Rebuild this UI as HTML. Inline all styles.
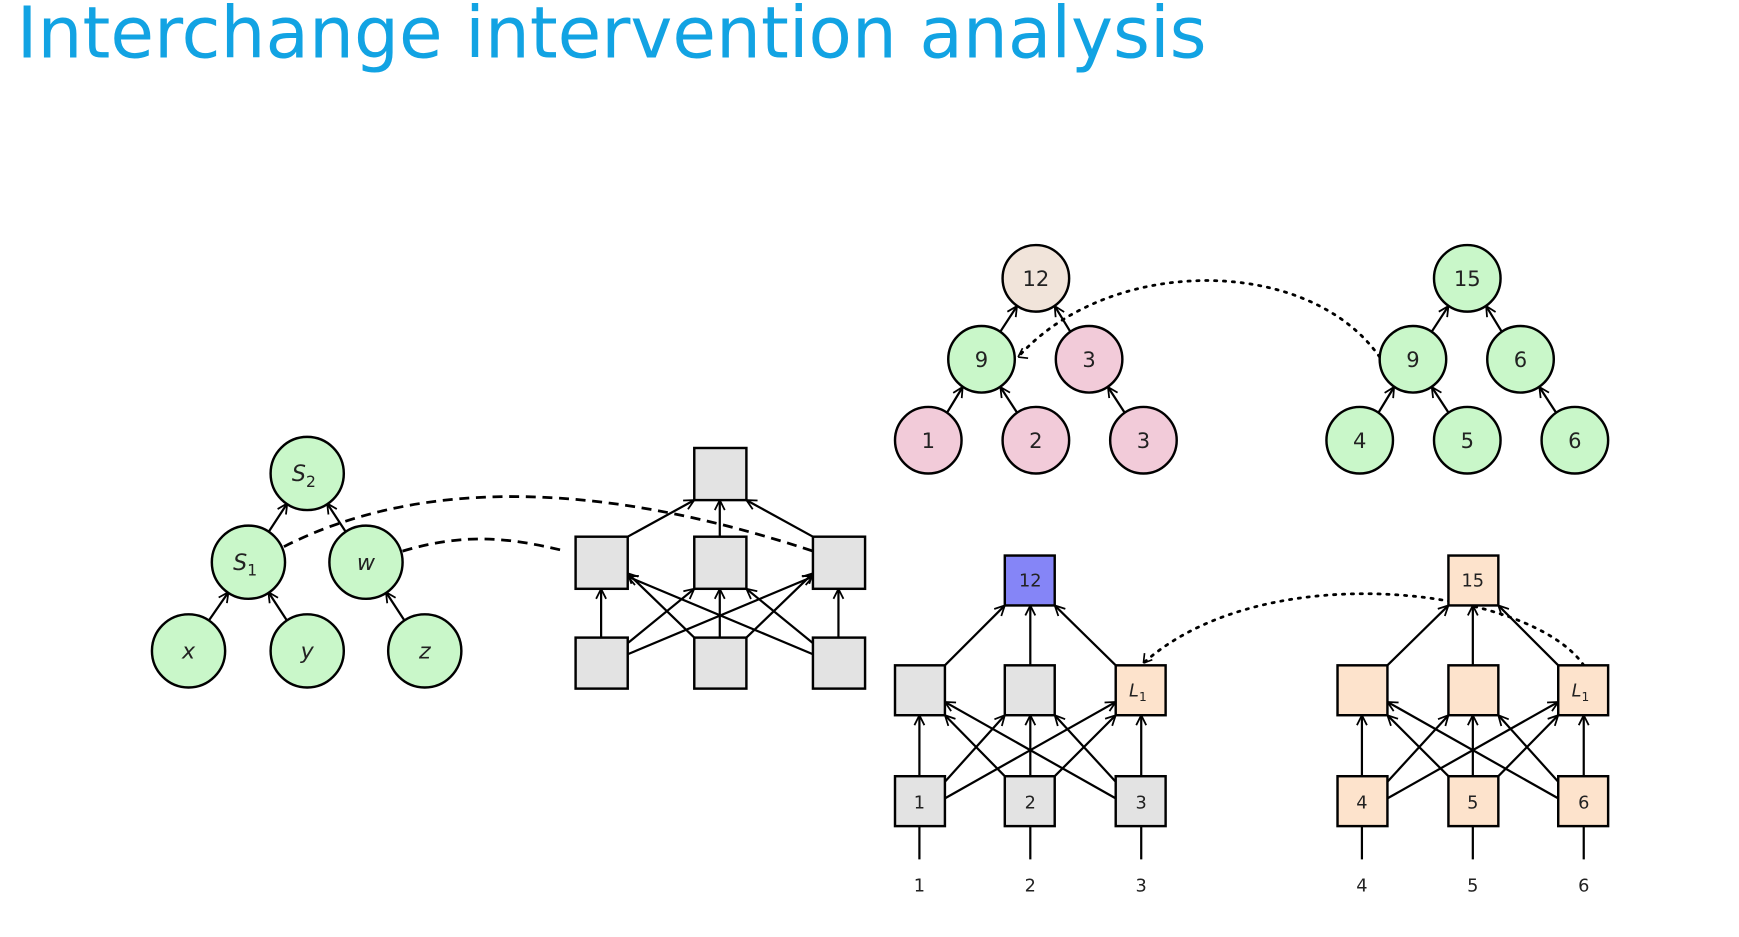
<!DOCTYPE html>
<html><head><meta charset="utf-8"><style>
html,body{margin:0;padding:0;background:#fff;width:1739px;height:937px;overflow:hidden}
svg{display:block}
</style></head><body>
<svg width="1739" height="937" viewBox="0 0 1568 845" preserveAspectRatio="none" xmlns="http://www.w3.org/2000/svg">
<defs>
<marker id="a" markerUnits="userSpaceOnUse" markerWidth="20" markerHeight="20" refX="0" refY="0" viewBox="-10 -10 20 20" orient="auto" overflow="visible">
<path d="M-9,-4.5 L0,0 L-9,4.5" fill="none" stroke="#000" stroke-width="1.6"/>
</marker>
</defs>
<text x="15" y="52" font-family="DejaVu Sans, Liberation Sans, sans-serif" font-size="64" fill="#12a3e3" textLength="1073" lengthAdjust="spacingAndGlyphs">Interchange intervention analysis</text>

<g stroke="#000" stroke-width="2" fill="none" marker-end="url(#a)">
<line x1="242" y1="480" x2="259" y2="454"/>
<line x1="312" y1="480" x2="295" y2="454"/>
<line x1="188" y1="560" x2="206" y2="534"/>
<line x1="259" y1="560" x2="242" y2="534"/>
<line x1="365" y1="560" x2="348" y2="534"/>
<line x1="902" y1="299" x2="917" y2="276"/>
<line x1="965" y1="299" x2="951" y2="276"/>
<line x1="854" y1="372" x2="868" y2="349"/>
<line x1="917" y1="372" x2="902" y2="349"/>
<line x1="1014" y1="372" x2="999" y2="349"/>
<line x1="1291" y1="299" x2="1306" y2="276"/>
<line x1="1354" y1="299" x2="1340" y2="276"/>
<line x1="1243" y1="372" x2="1257" y2="349"/>
<line x1="1306" y1="372" x2="1291" y2="349"/>
<line x1="1403" y1="372" x2="1388" y2="349"/>
<line x1="566" y1="484" x2="626" y2="451"/>
<line x1="649" y1="484" x2="649" y2="451"/>
<line x1="733" y1="484" x2="673" y2="451"/>
<line x1="542" y1="575" x2="542" y2="531"/>
<line x1="649" y1="575" x2="649" y2="531"/>
<line x1="756" y1="575" x2="756" y2="531"/>
<line x1="566" y1="580" x2="626" y2="531"/>
<line x1="566" y1="590" x2="733" y2="520"/>
<line x1="626" y1="575" x2="566" y2="517"/>
<line x1="673" y1="575" x2="733" y2="517"/>
<line x1="733" y1="580" x2="673" y2="531"/>
<line x1="733" y1="590" x2="566" y2="520"/>
</g>

<g stroke="#000" stroke-width="2" fill="none" marker-end="url(#a)">
<line x1="852" y1="600" x2="906" y2="546"/>
<line x1="929" y1="600" x2="929" y2="546"/>
<line x1="1006" y1="600" x2="951" y2="546"/>
<line x1="829" y1="700" x2="829" y2="645"/>
<line x1="929" y1="700" x2="929" y2="645"/>
<line x1="1029" y1="700" x2="1029" y2="645"/>
<line x1="852" y1="705" x2="906" y2="645"/>
<line x1="852" y1="720" x2="1006" y2="633"/>
<line x1="906" y1="700" x2="852" y2="645"/>
<line x1="951" y1="700" x2="1006" y2="645"/>
<line x1="1006" y1="705" x2="951" y2="645"/>
<line x1="1006" y1="720" x2="852" y2="633"/>
<line x1="1251" y1="600" x2="1306" y2="546"/>
<line x1="1328" y1="600" x2="1328" y2="546"/>
<line x1="1405" y1="600" x2="1351" y2="546"/>
<line x1="1228" y1="700" x2="1228" y2="645"/>
<line x1="1328" y1="700" x2="1328" y2="645"/>
<line x1="1428" y1="700" x2="1428" y2="645"/>
<line x1="1251" y1="705" x2="1306" y2="645"/>
<line x1="1251" y1="720" x2="1405" y2="633"/>
<line x1="1306" y1="700" x2="1251" y2="645"/>
<line x1="1351" y1="700" x2="1405" y2="645"/>
<line x1="1405" y1="705" x2="1351" y2="645"/>
<line x1="1405" y1="720" x2="1251" y2="633"/>
</g>
<g stroke="#000" stroke-width="2">
<line x1="829" y1="745" x2="829" y2="775"/><line x1="929" y1="745" x2="929" y2="775"/><line x1="1029" y1="745" x2="1029" y2="775"/>
<line x1="1228" y1="745" x2="1228" y2="775"/><line x1="1328" y1="745" x2="1328" y2="775"/><line x1="1428" y1="745" x2="1428" y2="775"/>
</g>

<g fill="none" stroke="#000" stroke-width="2.5">
<path d="M256,493 C350,445 500,420 733,497" stroke-dasharray="9,6"/>
<path d="M363,497 C420,480 460,485 510,497" stroke-dasharray="9,6"/>
</g>
<g fill="none" stroke="#000" stroke-width="2.5" stroke-dasharray="2,6" stroke-linecap="round">
<path d="M1244,322 C1180,230 1000,230 918,322"/>
<path d="M1428,600 C1380,530 1140,500 1031,598"/>
</g>
<path d="M918,322 l4,-8 M918,322 l9,1" stroke="#000" stroke-width="1.5" fill="none"/>
<path d="M1031,598 l1,-9 M1031,598 l8,-3" stroke="#000" stroke-width="1.5" fill="none"/>

<g stroke="#000" stroke-width="2.2">
<circle cx="277" cy="427" r="33" fill="#c9f7c9"/>
<circle cx="224" cy="507" r="33" fill="#c9f7c9"/>
<circle cx="330" cy="507" r="33" fill="#c9f7c9"/>
<circle cx="170" cy="587" r="33" fill="#c9f7c9"/>
<circle cx="277" cy="587" r="33" fill="#c9f7c9"/>
<circle cx="383" cy="587" r="33" fill="#c9f7c9"/>
<circle cx="934" cy="251" r="30" fill="#f1e4da"/>
<circle cx="885" cy="324" r="30" fill="#c9f7c9"/>
<circle cx="982" cy="324" r="30" fill="#f2cbd9"/>
<circle cx="837" cy="397" r="30" fill="#f2cbd9"/>
<circle cx="934" cy="397" r="30" fill="#f2cbd9"/>
<circle cx="1031" cy="397" r="30" fill="#f2cbd9"/>
<circle cx="1323" cy="251" r="30" fill="#c9f7c9"/>
<circle cx="1274" cy="324" r="30" fill="#c9f7c9"/>
<circle cx="1371" cy="324" r="30" fill="#c9f7c9"/>
<circle cx="1226" cy="397" r="30" fill="#c9f7c9"/>
<circle cx="1323" cy="397" r="30" fill="#c9f7c9"/>
<circle cx="1420" cy="397" r="30" fill="#c9f7c9"/>
</g>

<g stroke="#000" stroke-width="2.2" fill="#e3e3e3">
<rect x="626" y="404" width="47" height="47"/>
<rect x="519" y="484" width="47" height="47"/>
<rect x="626" y="484" width="47" height="47"/>
<rect x="733" y="484" width="47" height="47"/>
<rect x="519" y="575" width="47" height="46"/>
<rect x="626" y="575" width="47" height="46"/>
<rect x="733" y="575" width="47" height="46"/>
<rect x="906" y="501" width="45" height="45" fill="#8585f7"/>
<rect x="807" y="600" width="45" height="45"/>
<rect x="906" y="600" width="45" height="45"/>
<rect x="1006" y="600" width="45" height="45" fill="#fde3cc"/>
<rect x="807" y="700" width="45" height="45"/>
<rect x="906" y="700" width="45" height="45"/>
<rect x="1006" y="700" width="45" height="45"/>
<g fill="#fde3cc">
<rect x="1306" y="501" width="45" height="45"/>
<rect x="1206" y="600" width="45" height="45"/>
<rect x="1306" y="600" width="45" height="45"/>
<rect x="1405" y="600" width="45" height="45"/>
<rect x="1206" y="700" width="45" height="45"/>
<rect x="1306" y="700" width="45" height="45"/>
<rect x="1405" y="700" width="45" height="45"/>
</g>
</g>

<g font-family="DejaVu Sans, Liberation Sans, sans-serif" fill="#222" text-anchor="middle">
<g font-size="20" font-style="italic">
<text x="274" y="434">S<tspan font-size="14" dy="5" font-style="normal">2</tspan></text>
<text x="221" y="514">S<tspan font-size="14" dy="5" font-style="normal">1</tspan></text>
<text x="330" y="514">w</text>
<text x="170" y="594">x</text>
<text x="277" y="594">y</text>
<text x="383" y="594">z</text>
</g>
<g font-size="19">
<text x="934" y="258">12</text><text x="885" y="331">9</text><text x="982" y="331">3</text>
<text x="837" y="404">1</text><text x="934" y="404">2</text><text x="1031" y="404">3</text>
<text x="1323" y="258">15</text><text x="1274" y="331">9</text><text x="1371" y="331">6</text>
<text x="1226" y="404">4</text><text x="1323" y="404">5</text><text x="1420" y="404">6</text>
</g>
<g font-size="16">
<text x="929" y="529">12</text><text x="1328" y="529">15</text>
<text x="829" y="729">1</text><text x="929" y="729">2</text><text x="1029" y="729">3</text>
<text x="1228" y="729">4</text><text x="1328" y="729">5</text><text x="1428" y="729">6</text>
<text x="829" y="804">1</text><text x="929" y="804">2</text><text x="1029" y="804">3</text>
<text x="1228" y="804">4</text><text x="1328" y="804">5</text><text x="1428" y="804">6</text>
<text x="1026" y="628" font-style="italic">L<tspan font-size="11" dy="4" font-style="normal">1</tspan></text>
<text x="1425" y="628" font-style="italic">L<tspan font-size="11" dy="4" font-style="normal">1</tspan></text>
</g>
</g>
</svg>
</body></html>
